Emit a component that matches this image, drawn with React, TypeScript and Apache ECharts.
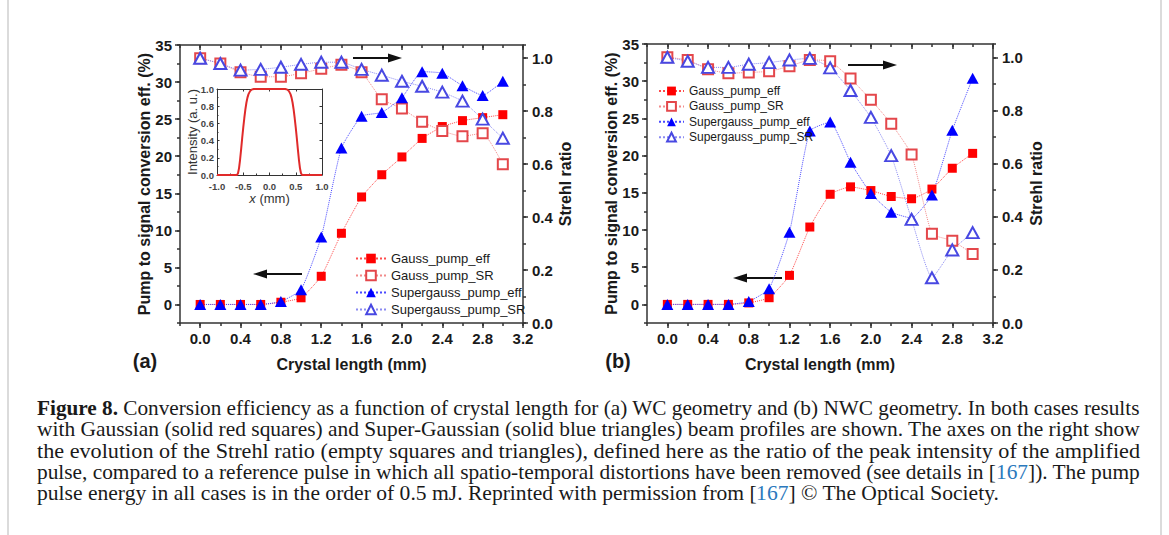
import React, { useEffect, useRef } from 'react';
import * as echarts from 'echarts';

// ---------- data ----------
const crystalLength = [0, 0.2, 0.4, 0.6, 0.8, 1.0, 1.2, 1.4, 1.6, 1.8, 2.0, 2.2, 2.4, 2.6, 2.8, 3.0];

// (a) WC geometry
const gaussEffA = [0, 0, 0, 0, 0.3, 0.9, 3.8, 9.6, 14.5, 17.5, 19.9, 22.4, 24.0, 24.8, 25.2, 25.6];
const gaussSRA = [1.0, 0.98, 0.947, 0.93, 0.93, 0.943, 0.96, 0.975, 0.947, 0.845, 0.81, 0.76, 0.725, 0.705, 0.717, 0.6];
const superEffA = [0, 0, 0, 0, 0.4, 2.0, 9.1, 21.1, 25.4, 25.9, 27.9, 31.4, 31.2, 29.5, 28.2, 30.1];
const superSRA = [1.0, 0.98, 0.955, 0.958, 0.966, 0.977, 0.985, 0.985, 0.958, 0.936, 0.913, 0.894, 0.872, 0.838, 0.77, 0.698];

// (b) NWC geometry
const gaussEffB = [0, 0, 0, 0, 0.2, 0.9, 3.9, 10.4, 14.8, 15.8, 15.3, 14.5, 14.2, 15.5, 18.3, 20.3];
const gaussSRB = [1.0, 0.99, 0.955, 0.94, 0.943, 0.947, 0.966, 0.99, 0.985, 0.92, 0.84, 0.75, 0.634, 0.336, 0.31, 0.26];
const superEffB = [0, 0, 0, 0, 0.4, 2.1, 9.7, 23.3, 24.5, 19.1, 14.9, 12.4, 11.6, 14.7, 23.4, 30.4];
const superSRB = [1.0, 0.985, 0.962, 0.962, 0.974, 0.98, 0.99, 0.996, 0.96, 0.875, 0.774, 0.63, 0.39, 0.17, 0.275, 0.34];

// inset beam profile
const insetX = [-1.0, -0.62, -0.6, -0.58, -0.56, -0.54, -0.52, -0.5, -0.48, -0.46, -0.44, -0.42, -0.4, -0.37, -0.34, -0.3,
  0.3, 0.34, 0.37, 0.4, 0.42, 0.44, 0.46, 0.48, 0.5, 0.52, 0.54, 0.56, 0.58, 0.6, 0.62, 1.0];
const insetY = [0, 0, 0.02, 0.08, 0.18, 0.3, 0.43, 0.55, 0.66, 0.76, 0.84, 0.9, 0.94, 0.975, 0.993, 1.0,
  1.0, 0.993, 0.975, 0.94, 0.9, 0.84, 0.76, 0.66, 0.55, 0.43, 0.3, 0.18, 0.08, 0.02, 0, 0];

// tick labels
const xTickValues = [0, 0.4, 0.8, 1.2, 1.6, 2.0, 2.4, 2.8, 3.2];
const effTickValues = [0, 5, 10, 15, 20, 25, 30, 35];
const srTickValues = [0, 0.2, 0.4, 0.6, 0.8, 1.0];

const seriesNames = ['Gauss_pump_eff', 'Gauss_pump_SR', 'Supergauss_pump_eff', 'Supergauss_pump_SR'];

// caption
type Run = { t: string; s?: 'b' | 'l' };
const captionLines: Run[][] = [
  [{ t: 'Figure 8.', s: 'b' }, { t: ' Conversion efficiency as a function of crystal length for (a) WC geometry and (b) NWC geometry. In both cases results' }],
  [{ t: 'with Gaussian (solid red squares) and Super-Gaussian (solid blue triangles) beam profiles are shown. The axes on the right show' }],
  [{ t: 'the evolution of the Strehl ratio (empty squares and triangles), defined here as the ratio of the peak intensity of the amplified' }],
  [{ t: 'pulse, compared to a reference pulse in which all spatio-temporal distortions have been removed (see details in [' }, { t: '167', s: 'l' }, { t: ']). The pump' }],
  [{ t: 'pulse energy in all cases is in the order of 0.5 mJ. Reprinted with permission from [' }, { t: '167', s: 'l' }, { t: '] \u00A9 The Optical Society.' }],
];

// ---------- styles ----------
const SANS = '"Liberation Sans", Arial, sans-serif';
const SERIF = '"Liberation Serif", "Times New Roman", serif';
const AX = '#333333';
const TXT = '#1a1a1a';
const axLine = { color: AX, width: 1.5 };

const pairs = (xs: number[], ys: number[]) => xs.map((x, i) => [x, ys[i]]);

function xAxesFor(gridIndex: number) {
  const base = { type: 'value', gridIndex, min: -0.2, max: 3.2, interval: 0.2, splitLine: { show: false } };
  return [
    {
      ...base, position: 'bottom',
      name: 'Crystal length (mm)', nameLocation: 'middle', nameGap: 33, nameMoveOverlap: false,
      nameTextStyle: { fontFamily: SANS, fontWeight: 'bold', fontSize: 16, color: TXT },
      axisLine: { show: true, onZero: false, lineStyle: axLine },
      axisTick: { show: true, customValues: xTickValues, length: 5, inside: false, lineStyle: axLine },
      axisLabel: { customValues: xTickValues, formatter: (v: number) => v.toFixed(1), margin: 8, fontFamily: SANS, fontWeight: 'bold', fontSize: 15, color: TXT },
    },
    {
      ...base, position: 'bottom',
      axisLine: { show: false, onZero: false },
      axisTick: { show: true, length: 3, inside: false, lineStyle: axLine },
      axisLabel: { show: false },
    },
    {
      ...base, position: 'top',
      axisLine: { show: true, onZero: false, lineStyle: axLine },
      axisTick: { show: true, customValues: xTickValues, length: 5, inside: true, lineStyle: axLine },
      axisLabel: { show: false },
    },
    {
      ...base, position: 'top',
      axisLine: { show: false, onZero: false },
      axisTick: { show: true, length: 3, inside: true, lineStyle: axLine },
      axisLabel: { show: false },
    },
  ];
}

function yAxesFor(gridIndex: number, leftGap: number, rightGap: number) {
  const effBase = { type: 'value', gridIndex, min: -2.5, max: 35, interval: 2.5, position: 'left', splitLine: { show: false } };
  const srBase = { type: 'value', gridIndex, min: 0, max: 1.05, interval: 0.1, position: 'right', splitLine: { show: false } };
  return [
    {
      ...effBase,
      name: 'Pump to signal conversion eff. (%)', nameLocation: 'middle', nameGap: leftGap, nameRotate: 90, nameMoveOverlap: false,
      nameTextStyle: { fontFamily: SANS, fontWeight: 'bold', fontSize: 16, color: TXT },
      axisLine: { show: true, onZero: false, lineStyle: axLine },
      axisTick: { show: true, customValues: effTickValues, length: 5, inside: false, lineStyle: axLine },
      axisLabel: { customValues: effTickValues, formatter: (v: number) => String(v), margin: 8, fontFamily: SANS, fontWeight: 'bold', fontSize: 15, color: TXT },
    },
    {
      ...effBase,
      axisLine: { show: false, onZero: false },
      axisTick: { show: true, length: 3, inside: false, lineStyle: axLine },
      axisLabel: { show: false },
    },
    {
      ...srBase,
      name: 'Strehl ratio', nameLocation: 'middle', nameGap: rightGap, nameRotate: 90, nameMoveOverlap: false,
      nameTextStyle: { fontFamily: SANS, fontWeight: 'bold', fontSize: 16, color: TXT },
      axisLine: { show: true, onZero: false, lineStyle: axLine },
      axisTick: { show: true, customValues: srTickValues, length: 5, inside: false, lineStyle: axLine },
      axisLabel: { customValues: srTickValues, formatter: (v: number) => v.toFixed(1), margin: 9, fontFamily: SANS, fontWeight: 'bold', fontSize: 15, color: TXT },
    },
    {
      ...srBase,
      axisLine: { show: false, onZero: false },
      axisTick: { show: true, length: 3, inside: false, lineStyle: axLine },
      axisLabel: { show: false },
    },
  ];
}

function seriesFor(xIdx: number, yEff: number, ySR: number, gE: number[], gS: number[], sE: number[], sS: number[]) {
  const common = { type: 'line', xAxisIndex: xIdx, smooth: 0.15, showAllSymbol: true, animation: false };
  return [
    {
      ...common, name: seriesNames[0], yAxisIndex: yEff, data: pairs(crystalLength, gE),
      symbol: 'rect', symbolSize: 9,
      itemStyle: { color: '#ff0000', borderWidth: 0 },
      lineStyle: { color: '#ff4a4a', width: 1, type: 'dotted' },
    },
    {
      ...common, name: seriesNames[1], yAxisIndex: ySR, data: pairs(crystalLength, gS),
      symbol: 'emptyRect', symbolSize: 10,
      itemStyle: { color: '#e4474b', borderColor: '#e4474b', borderWidth: 1.2 },
      lineStyle: { color: '#f28a8a', width: 1, type: 'dotted' },
    },
    {
      ...common, name: seriesNames[2], yAxisIndex: yEff, data: pairs(crystalLength, sE),
      symbol: 'triangle', symbolSize: [12, 11],
      itemStyle: { color: '#0000ff', borderWidth: 0 },
      lineStyle: { color: '#4a4aff', width: 1, type: 'dotted' },
    },
    {
      ...common, name: seriesNames[3], yAxisIndex: ySR, data: pairs(crystalLength, sS),
      symbol: 'emptyTriangle', symbolSize: [12, 11],
      itemStyle: { color: '#4848e2', borderColor: '#4848e2', borderWidth: 1.2 },
      lineStyle: { color: '#8a8af2', width: 1, type: 'dotted' },
    },
  ];
}

function arrow(xFrom: number, xTo: number, y: number) {
  const dir = xTo > xFrom ? 1 : -1;
  const headLen = 14;
  const base = xTo - dir * headLen;
  return [
    { type: 'line', silent: true, shape: { x1: xFrom, y1: y, x2: base, y2: y }, style: { stroke: '#111', lineWidth: 2 } },
    { type: 'polygon', silent: true, shape: { points: [[xTo, y], [base, y - 4.5], [base, y + 4.5]] }, style: { fill: '#111' } },
  ];
}

function captionGraphics() {
  const canvas = document.createElement('canvas');
  const ctx = canvas.getContext('2d')!;
  const measure = (runs: Run[], size: number) => {
    let w = 0;
    for (const r of runs) {
      ctx.font = `${r.s === 'b' ? 'bold ' : ''}${size}px ${SERIF}`;
      w += ctx.measureText(r.t).width;
    }
    return w;
  };
  const last = captionLines.length - 1;
  let fs = 19;
  const m5 = measure(captionLines[last], 19);
  if (m5 > 0) fs = Math.max(16, Math.min(21, 19 * 934 / m5));
  const left = 37;
  const fullW = 1140 - left;
  const scales = captionLines.map((runs, i) => (i < last ? fullW / Math.max(1, measure(runs, fs)) : 1));
  const avg = scales.slice(0, last).reduce((a, b) => a + b, 0) / last;
  scales[last] = Math.min(1.06, Math.max(0.94, avg));
  return captionLines.map((runs, i) => ({
    type: 'text',
    silent: true,
    x: left,
    y: 408 + i * 21.4,
    scaleX: scales[i],
    style: {
      text: runs.map((r) => (r.s ? `{${r.s}|${r.t}}` : r.t)).join(''),
      rich: {
        b: { fontWeight: 'bold', fontSize: fs, fontFamily: SERIF, fill: TXT },
        l: { fontSize: fs, fontFamily: SERIF, fill: '#2b79bd' },
      },
      fontSize: fs,
      fontFamily: SERIF,
      fill: TXT,
      align: 'left',
      verticalAlign: 'middle',
    },
  }));
}

function buildOption() {
  const legendText = (size: number) => ({ fontFamily: SANS, fontSize: size, color: TXT });
  return {
    animation: false,
    backgroundColor: '#ffffff',
    grid: [
      { left: 180, top: 45, width: 343, height: 278, outerBoundsMode: 'none' },
      { left: 647, top: 44, width: 346, height: 279, outerBoundsMode: 'none' },
      { left: 217, top: 89, width: 105, height: 86, show: true, backgroundColor: '#fff', borderWidth: 0, outerBoundsMode: 'none' },
    ],
    legend: [
      {
        left: 350, top: 247, orient: 'vertical', itemWidth: 30, itemHeight: 12, itemGap: 4,
        selectedMode: false, data: seriesNames, textStyle: legendText(13),
      },
      {
        left: 653, top: 80, orient: 'vertical', itemWidth: 25, itemHeight: 11, itemGap: 3.4,
        selectedMode: false, data: seriesNames, textStyle: legendText(12),
      },
    ],
    xAxis: [
      ...xAxesFor(0),
      ...xAxesFor(1),
      {
        type: 'value', gridIndex: 2, min: -1, max: 1, interval: 0.5, position: 'bottom',
        name: '{i|x} (mm)', nameLocation: 'middle', nameGap: 17, nameMoveOverlap: false,
        nameTextStyle: { fontFamily: SANS, fontSize: 13, color: '#333', rich: { i: { fontFamily: SANS, fontSize: 13, fontStyle: 'italic', color: '#333' } } },
        axisLine: { show: true, onZero: false, lineStyle: { color: AX, width: 1 } },
        axisTick: { show: true, length: 2.5, inside: true, lineStyle: { color: AX, width: 1 } },
        minorTick: { show: true, splitNumber: 2, length: 1.5, lineStyle: { color: AX, width: 1 } },
        axisLabel: { formatter: (v: number) => v.toFixed(1), margin: 6, fontFamily: SANS, fontWeight: 'bold', fontSize: 9.5, color: '#444' },
        splitLine: { show: false },
      },
      {
        type: 'value', gridIndex: 2, min: -1, max: 1, interval: 0.5, position: 'top',
        axisLine: { show: true, onZero: false, lineStyle: { color: AX, width: 1 } },
        axisTick: { show: true, length: 2.5, inside: true, lineStyle: { color: AX, width: 1 } },
        axisLabel: { show: false }, splitLine: { show: false },
      },
    ],
    yAxis: [
      ...yAxesFor(0, 28, 34),
      ...yAxesFor(1, 28, 35),
      {
        type: 'value', gridIndex: 2, min: 0, max: 1, interval: 0.2, position: 'left',
        name: 'Intensity (a. u.)', nameLocation: 'middle', nameGap: 18, nameRotate: 90, nameMoveOverlap: false,
        nameTextStyle: { fontFamily: SANS, fontSize: 13, color: '#333' },
        axisLine: { show: true, onZero: false, lineStyle: { color: AX, width: 1 } },
        axisTick: { show: true, length: 2.5, inside: true, lineStyle: { color: AX, width: 1 } },
        minorTick: { show: true, splitNumber: 2, length: 1.5, lineStyle: { color: AX, width: 1 } },
        axisLabel: { formatter: (v: number) => v.toFixed(1), margin: 3, fontFamily: SANS, fontWeight: 'bold', fontSize: 9.5, color: '#444' },
        splitLine: { show: false },
      },
      {
        type: 'value', gridIndex: 2, min: 0, max: 1, interval: 0.2, position: 'right',
        axisLine: { show: true, onZero: false, lineStyle: { color: AX, width: 1 } },
        axisTick: { show: true, length: 2.5, inside: true, lineStyle: { color: AX, width: 1 } },
        axisLabel: { show: false }, splitLine: { show: false },
      },
    ],
    series: [
      ...seriesFor(0, 0, 2, gaussEffA, gaussSRA, superEffA, superSRA),
      ...seriesFor(4, 4, 6, gaussEffB, gaussSRB, superEffB, superSRB),
      {
        type: 'line', name: 'profile', xAxisIndex: 8, yAxisIndex: 8, data: pairs(insetX, insetY),
        symbol: 'none', clip: false, lineStyle: { color: '#e02a2a', width: 2 }, z: 5,
      },
    ],
    graphic: [
      { type: 'line', silent: true, shape: { x1: 8, y1: 0, x2: 8, y2: 535 }, style: { stroke: '#cfcfcf', lineWidth: 1.5 } },
      { type: 'line', silent: true, shape: { x1: 1161, y1: 0, x2: 1161, y2: 535 }, style: { stroke: '#cfcfcf', lineWidth: 1.5 } },
      ...arrow(353, 402, 58),
      ...arrow(302, 253, 274),
      ...arrow(848, 897, 65),
      ...arrow(782, 733, 278),
      { type: 'text', silent: true, x: 145, y: 361, style: { text: '(a)', fontFamily: SANS, fontWeight: 'bold', fontSize: 20, fill: TXT, align: 'center', verticalAlign: 'middle' } },
      { type: 'text', silent: true, x: 618, y: 361, style: { text: '(b)', fontFamily: SANS, fontWeight: 'bold', fontSize: 20, fill: TXT, align: 'center', verticalAlign: 'middle' } },
      ...captionGraphics(),
    ],
  };
}

export default function App() {
  const ref = useRef<HTMLDivElement>(null);
  useEffect(() => {
    if (!ref.current) return;
    const chart = echarts.init(ref.current, null, { renderer: 'svg' });
    chart.setOption(buildOption() as any);
    return () => chart.dispose();
  }, []);
  return (
    <div
      ref={ref}
      style={{ position: 'absolute', left: 0, top: 0, width: 1169, height: 535, background: '#fff' }}
    />
  );
}
